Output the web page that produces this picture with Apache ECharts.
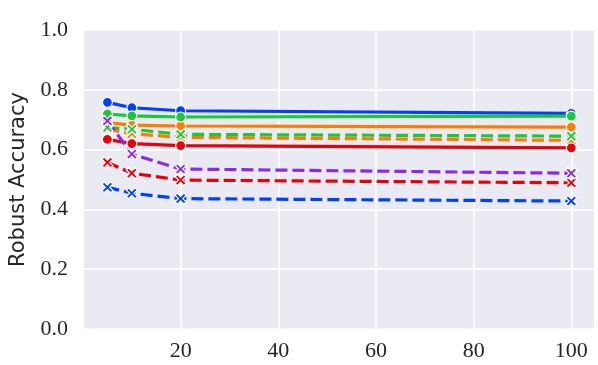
<!DOCTYPE html>
<html>
<head>
    <meta charset="utf-8">
    <title>Robust Accuracy</title>
    <script src="https://cdn.jsdelivr.net/npm/echarts@6.0.0/dist/echarts.min.js"></script>
    <style>
        body { margin: 0; background: #fff; }
        #chart { width: 598px; height: 365px; }
    </style>
</head>
<body>
    <div id="chart"></div>
    <script>
        // x positions of the measurements
        var steps = [5, 10, 20, 100];

        // solid lines (circle markers)
        var blueSolid = [0.758, 0.740, 0.730, 0.721];
        var orangeSolid = [0.690, 0.682, 0.679, 0.675];
        var greenSolid = [0.719, 0.713, 0.709, 0.712];
        var redSolid = [0.634, 0.620, 0.613, 0.606];

        // dashed lines (x markers)
        var blueDashed = [0.474, 0.454, 0.436, 0.428];
        var orangeDashed = [0.668, 0.653, 0.641, 0.631];
        var greenDashed = [0.674, 0.668, 0.651, 0.645];
        var redDashed = [0.557, 0.521, 0.498, 0.489];
        var purpleDashed = [0.696, 0.585, 0.535, 0.521];

        var xTicks = [20, 40, 60, 80, 100];

        var X_SYMBOL = 'path://M0,2 L2,0 L5,3 L8,0 L10,2 L7,5 L10,8 L8,10 L5,7 L2,10 L0,8 L3,5 Z';

        function pairs(values) {
            return steps.map(function (s, i) { return [s, values[i]]; });
        }

        function makeSeries(name, values, color, dashed) {
            return {
                name: name,
                type: 'line',
                data: pairs(values),
                symbol: dashed ? X_SYMBOL : 'circle',
                symbolSize: dashed ? 11 : 10,
                showAllSymbol: true,
                lineStyle: {
                    color: color,
                    width: 3.2,
                    type: dashed ? [12, 5] : 'solid'
                },
                itemStyle: {
                    color: color,
                    borderColor: '#fff',
                    borderWidth: 1.2
                },
                emphasis: { disabled: true }
            };
        }

        var chart = echarts.init(document.getElementById('chart'));

        chart.setOption({
            animation: false,
            backgroundColor: '#fff',
            grid: {
                left: 77,
                right: 3.5,
                top: 30,
                bottom: 36,
                show: true,
                backgroundColor: '#EAEAF2',
                borderWidth: 0
            },
            xAxis: {
                type: 'value',
                min: 0,
                max: 104.75,
                interval: 20,
                axisLine: { show: false },
                axisTick: { show: false },
                splitLine: { lineStyle: { color: '#fff', width: 1.6 } },
                axisLabel: {
                    margin: 11,
                    fontFamily: 'Liberation Serif',
                    fontSize: 22,
                    color: '#262626',
                    formatter: function (v) {
                        return xTicks.indexOf(v) >= 0 ? String(v) : '';
                    }
                }
            },
            yAxis: {
                type: 'value',
                min: 0,
                max: 1,
                interval: 0.2,
                name: 'Robust Accuracy',
                nameLocation: 'middle',
                nameGap: 54,
                nameTextStyle: {
                    fontFamily: 'DejaVu Sans',
                    fontSize: 21,
                    color: '#262626'
                },
                axisLine: { show: false },
                axisTick: { show: false },
                splitLine: { lineStyle: { color: '#fff', width: 1.6 } },
                axisLabel: {
                    margin: 15,
                    fontFamily: 'Liberation Serif',
                    fontSize: 22,
                    color: '#262626',
                    formatter: function (v) { return v.toFixed(1); }
                }
            },
            series: [
                makeSeries('blue', blueSolid, '#023EFF', false),
                makeSeries('blue dashed', blueDashed, '#023EFF', true),
                makeSeries('orange', orangeSolid, '#FF7C00', false),
                makeSeries('orange dashed', orangeDashed, '#FF7C00', true),
                makeSeries('green', greenSolid, '#1AC938', false),
                makeSeries('green dashed', greenDashed, '#1AC938', true),
                makeSeries('red', redSolid, '#E8000B', false),
                makeSeries('red dashed', redDashed, '#E8000B', true),
                makeSeries('purple dashed', purpleDashed, '#8B2BE2', true)
            ]
        });
    </script>
</body>
</html>
